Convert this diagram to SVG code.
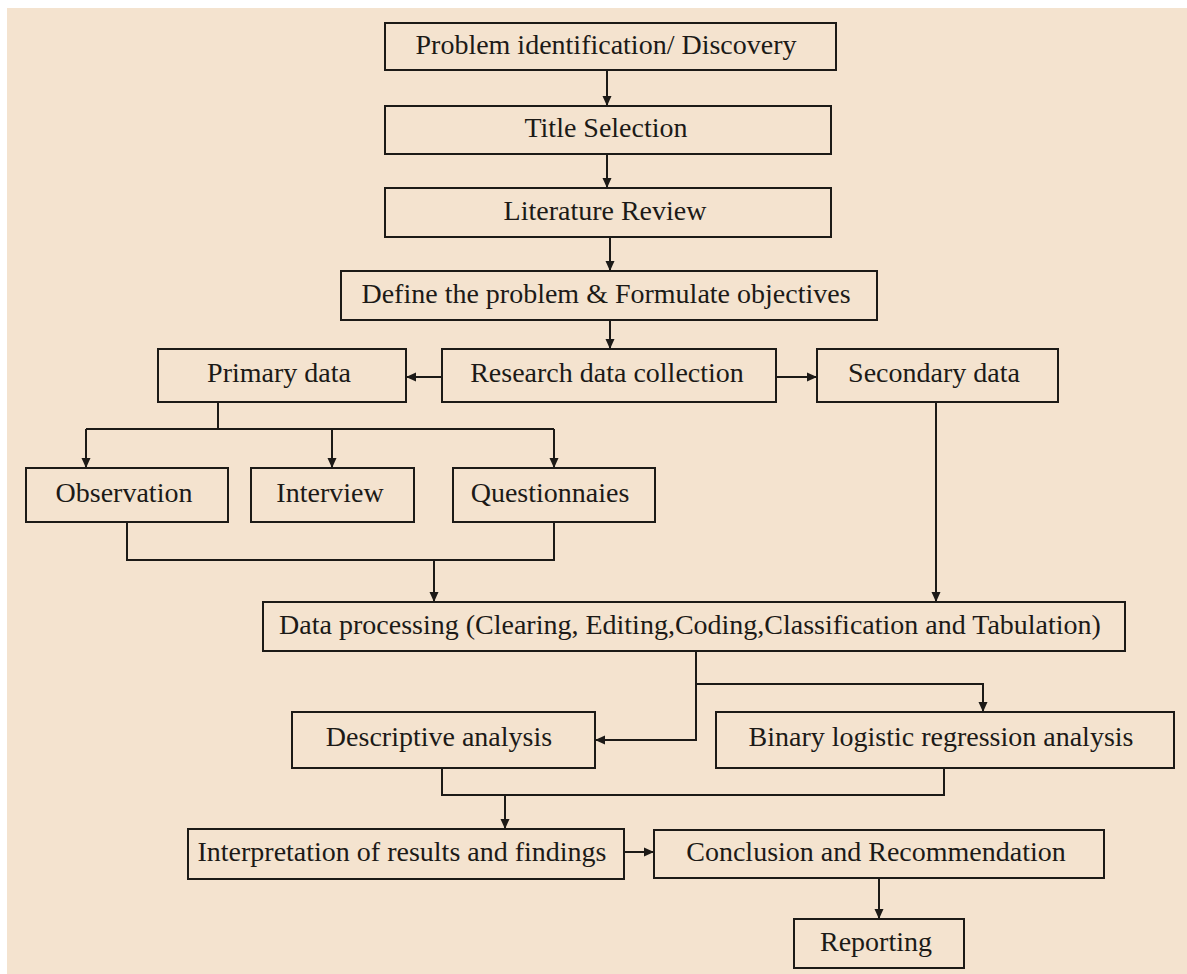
<svg xmlns="http://www.w3.org/2000/svg" width="1187" height="974" viewBox="0 0 1187 974">
<style>
.box{fill:none;stroke:#1c1a17;stroke-width:2}
.lbl{font-family:"Liberation Serif","Times New Roman",serif;font-size:28px;fill:#1c1a17;text-anchor:middle}
.con{fill:none;stroke:#1c1a17;stroke-width:2}
</style>
<defs>
<marker id="ah" markerUnits="userSpaceOnUse" markerWidth="12" markerHeight="12" viewBox="0 0 12 12" refX="11" refY="6" orient="auto">
<path d="M1,1.5 L11,6 L1,10.5 Z" fill="#1c1a17"/>
</marker>
</defs>
<rect x="0" y="0" width="1187" height="974" fill="#ffffff"/>
<rect x="7" y="8" width="1180" height="966" fill="#f4e3cf"/>
<g id="connectors">
<path class="con" d="M607,70 V106" marker-end="url(#ah)"/>
<path class="con" d="M607,154 V188" marker-end="url(#ah)"/>
<path class="con" d="M610,237 V271" marker-end="url(#ah)"/>
<path class="con" d="M610,320 V349" marker-end="url(#ah)"/>
<path class="con" d="M442,377 H406" marker-end="url(#ah)"/>
<path class="con" d="M776,377 H817" marker-end="url(#ah)"/>
<path class="con" d="M218,402 V429 M86,429 H554"/>
<path class="con" d="M86,429 V468" marker-end="url(#ah)"/>
<path class="con" d="M332,429 V468" marker-end="url(#ah)"/>
<path class="con" d="M554,429 V468" marker-end="url(#ah)"/>
<path class="con" d="M127,522 V560 H554 V522"/>
<path class="con" d="M434,560 V602" marker-end="url(#ah)"/>
<path class="con" d="M936,402 V602" marker-end="url(#ah)"/>
<path class="con" d="M696,651 V740 H595" marker-end="url(#ah)"/>
<path class="con" d="M696,684 H983 V712" marker-end="url(#ah)"/>
<path class="con" d="M442,768 V795 H944 V768"/>
<path class="con" d="M505,795 V829" marker-end="url(#ah)"/>
<path class="con" d="M624,852 H654" marker-end="url(#ah)"/>
<path class="con" d="M879,878 V919" marker-end="url(#ah)"/>
</g>
<g id="n1"><rect class="box" x="385" y="23" width="451" height="47"/><text class="lbl" x="606" y="54">Problem identification/ Discovery</text></g>
<g id="n2"><rect class="box" x="385" y="106" width="446" height="48"/><text class="lbl" x="606" y="137">Title Selection</text></g>
<g id="n3"><rect class="box" x="385" y="188" width="446" height="49"/><text class="lbl" x="605" y="220">Literature Review</text></g>
<g id="n4"><rect class="box" x="341" y="271" width="536" height="49"/><text class="lbl" x="606" y="303">Define the problem &amp; Formulate objectives</text></g>
<g id="n5"><rect class="box" x="442" y="349" width="334" height="53"/><text class="lbl" x="607" y="382">Research data collection</text></g>
<g id="n6"><rect class="box" x="158" y="349" width="248" height="53"/><text class="lbl" x="279" y="382">Primary data</text></g>
<g id="n7"><rect class="box" x="817" y="349" width="241" height="53"/><text class="lbl" x="934" y="382">Secondary data</text></g>
<g id="n8"><rect class="box" x="26" y="468" width="202" height="54"/><text class="lbl" x="124" y="502">Observation</text></g>
<g id="n9"><rect class="box" x="251" y="468" width="163" height="54"/><text class="lbl" x="330" y="502">Interview</text></g>
<g id="n10"><rect class="box" x="453" y="468" width="202" height="54"/><text class="lbl" x="550" y="502">Questionnaies</text></g>
<g id="n11"><rect class="box" x="263" y="602" width="862" height="49"/><text class="lbl" x="690" y="634">Data processing (Clearing, Editing,Coding,Classification and Tabulation)</text></g>
<g id="n12"><rect class="box" x="292" y="712" width="303" height="56"/><text class="lbl" x="439" y="746">Descriptive analysis</text></g>
<g id="n13"><rect class="box" x="716" y="712" width="458" height="56"/><text class="lbl" x="941" y="746">Binary logistic regression analysis</text></g>
<g id="n14"><rect class="box" x="188" y="829" width="436" height="50"/><text class="lbl" x="402" y="861">Interpretation of results and findings</text></g>
<g id="n15"><rect class="box" x="654" y="830" width="450" height="48"/><text class="lbl" x="876" y="861">Conclusion and Recommendation</text></g>
<g id="n16"><rect class="box" x="794" y="919" width="170" height="49"/><text class="lbl" x="876" y="951">Reporting</text></g>
</svg>
